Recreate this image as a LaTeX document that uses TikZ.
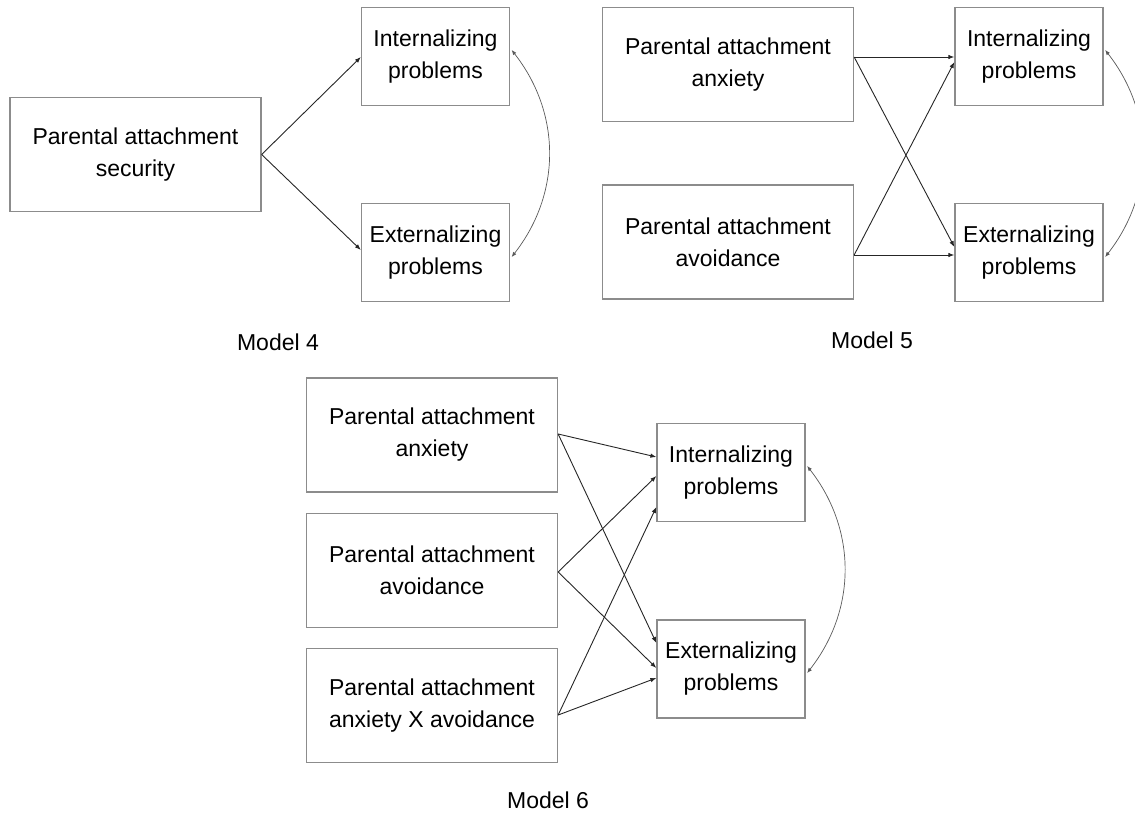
\documentclass[tikz,border=0pt]{standalone}
\usepackage{fontspec}
\setmainfont{Liberation Sans}
\usetikzlibrary{arrows.meta,calc}
\definecolor{boxgray}{gray}{0.55}
\definecolor{linegray}{gray}{0.15}
\definecolor{covgray}{gray}{0.35}
\begin{document}
\begin{tikzpicture}[x=1pt,y=-1pt,
  box/.style={draw=boxgray, line width=1.3pt, inner sep=0pt, align=center,
    font=\fontsize{23}{32}\selectfont, text=black},
  srcbox/.style={box, minimum width=251pt, minimum height=114pt},
  outbox/.style={box, minimum width=148pt, minimum height=98pt},
  path/.style={draw=linegray, line width=0.9pt, -{Latex[length=6pt,width=4.5pt]}},
  cov/.style={draw=covgray, line width=0.7pt,
    {Latex[length=5pt,width=4pt]}-{Latex[length=5pt,width=4pt]}, bend left=38},
  lbl/.style={inner sep=0pt, font=\fontsize{23}{28}\selectfont, text=black}]
\useasboundingbox (0,0) rectangle (1135,816);

% ---------- Model 4 ----------
\node[srcbox] (sec) at (135.5,154.5) {Parental attachment\\security};
\node[outbox] (int4) at (435.5,56.5) {Internalizing\\problems};
\node[outbox] (ext4) at (435.5,252.5) {Externalizing\\problems};
\draw[path] (sec.east) -- ($(int4.west)+(0,0.5)$);
\draw[path] (sec.east) -- ($(ext4.west)+(0,-2.5)$);
\draw[cov] ($(int4.east)+(1.5,-6.5)$) to ($(ext4.east)+(1.5,4.5)$);
\node[lbl] (m4) at (278,342) {Model 4};

% ---------- Model 5 ----------
\node[srcbox] (anx5) at (728,64.5) {Parental attachment\\anxiety};
\node[srcbox] (avo5) at (728,242) {Parental attachment\\avoidance};
\node[outbox] (int5) at (1029,56.5) {Internalizing\\problems};
\node[outbox] (ext5) at (1029,252.5) {Externalizing\\problems};
\draw[path] ($(anx5.east)+(0,-7.5)$) -- ($(int5.west)+(0,0.5)$);
\draw[path] ($(anx5.east)+(0,-7.5)$) -- ($(ext5.west)+(0,-5.5)$);
\draw[path] ($(avo5.east)+(0,13)$) -- ($(int5.west)+(0,5.5)$);
\draw[path] ($(avo5.east)+(0,13)$) -- ($(ext5.west)+(0,2.5)$);
\draw[cov] ($(int5.east)+(1.5,-6.5)$) to ($(ext5.east)+(1.5,4.5)$);
\node[lbl] (m5) at (872,340) {Model 5};

% ---------- Model 6 ----------
\node[srcbox] (anx6) at (432,435) {Parental attachment\\anxiety};
\node[srcbox] (avo6) at (432,570.5) {Parental attachment\\avoidance};
\node[srcbox] (axa6) at (432,705.5) {Parental attachment\\anxiety X avoidance};
\node[outbox] (int6) at (731,472.5) {Internalizing\\problems};
\node[outbox] (ext6) at (731,669) {Externalizing\\problems};
\draw[path] ($(anx6.east)+(0,-1)$) -- ($(int6.west)+(0,-15.5)$);
\draw[path] ($(anx6.east)+(0,-1)$) -- ($(ext6.west)+(0,-26)$);
\draw[path] ($(avo6.east)+(0,1.5)$) -- ($(int6.west)+(0,3.5)$);
\draw[path] ($(avo6.east)+(0,1.5)$) -- ($(ext6.west)+(0,-1)$);
\draw[path] ($(axa6.east)+(0,9.5)$) -- ($(int6.west)+(0,34.5)$);
\draw[path] ($(axa6.east)+(0,9.5)$) -- ($(ext6.west)+(0,9)$);
\draw[cov] ($(int6.east)+(1.5,-6.5)$) to ($(ext6.east)+(1.5,4)$);
\node[lbl] (m6) at (548,800) {Model 6};
\end{tikzpicture}
\end{document}
